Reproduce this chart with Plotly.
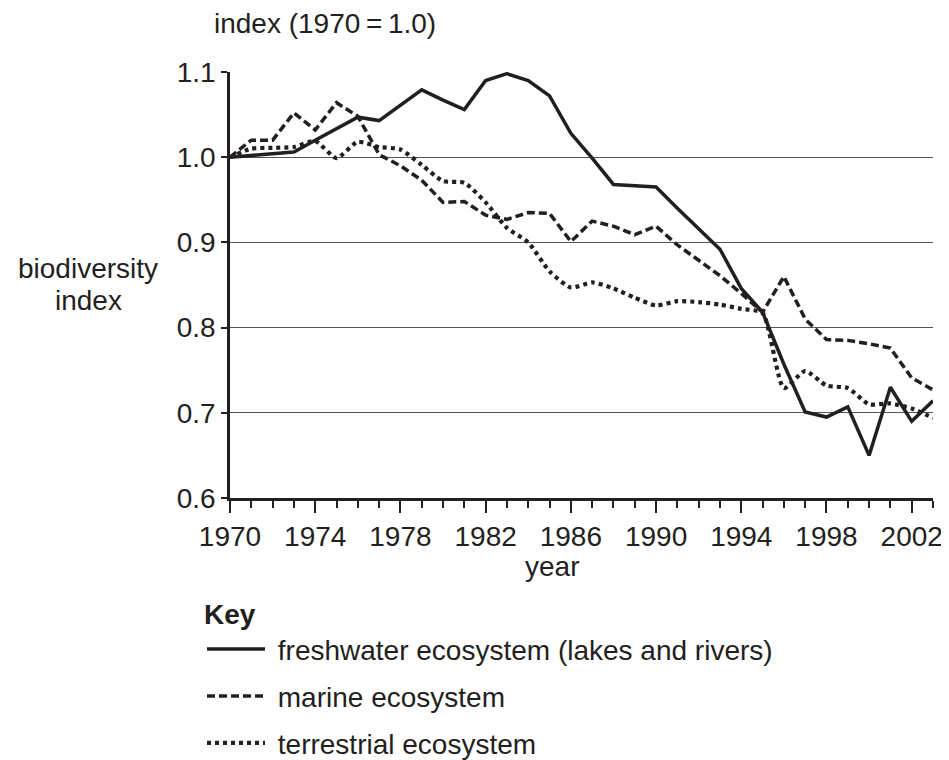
import plotly.graph_objects as go

years = list(range(1970, 2004))

freshwater = [1.000, 1.002, 1.004, 1.006, 1.020, 1.033, 1.047, 1.043, 1.061, 1.079,
              1.067, 1.056, 1.090, 1.098, 1.090, 1.072, 1.028, 0.999, 0.968, 0.966,
              0.965, 0.940, 0.916, 0.892, 0.846, 0.818, 0.757, 0.701, 0.695, 0.707,
              0.650, 0.730, 0.690, 0.714]

marine = [1.000, 1.020, 1.020, 1.052, 1.032, 1.064, 1.048, 1.003, 0.990, 0.973,
          0.947, 0.948, 0.932, 0.927, 0.935, 0.934, 0.901, 0.925, 0.919, 0.909,
          0.919, 0.897, 0.879, 0.861, 0.840, 0.818, 0.860, 0.810, 0.786, 0.785,
          0.781, 0.776, 0.741, 0.727]

terrestrial = [1.000, 1.010, 1.011, 1.012, 1.019, 0.999, 1.018, 1.012, 1.009, 0.991,
               0.972, 0.970, 0.947, 0.917, 0.900, 0.866, 0.847, 0.853, 0.846, 0.835,
               0.826, 0.831, 0.830, 0.827, 0.822, 0.817, 0.729, 0.749, 0.732, 0.729,
               0.710, 0.711, 0.705, 0.694]

series_names = ["freshwater ecosystem (lakes and rivers)", "marine ecosystem",
                "terrestrial ecosystem"]

y_ticks = [0.6, 0.7, 0.8, 0.9, 1.0, 1.1]
x_ticks = list(range(1970, 2003, 4))

FONT = "Liberation Sans, Arial, Helvetica, sans-serif"
FS = 28
INK = "#231f20"

# the page body adds an 8px margin, so the figure is drawn 8px smaller
W, H = 941, 752
PAD = "\u00a0"

fig = go.Figure()
fig.add_trace(go.Scatter(x=years, y=freshwater, mode="lines", name=PAD + series_names[0],
                         legendgroup="a",
                         line=dict(color=INK, width=3.5)))
fig.add_trace(go.Scatter(x=years, y=marine, mode="lines", name=PAD + series_names[1],
                         legendgroup="b",
                         line=dict(color=INK, width=3.5, dash="8px,4px")))
fig.add_trace(go.Scatter(x=years, y=terrestrial, mode="lines", name=PAD + series_names[2],
                         legendgroup="c",
                         line=dict(color=INK, width=4.2, dash="4px,4px", shape="spline",
                                   smoothing=0.6)))

fig.update_layout(
    width=W, height=H,
    margin=dict(l=222, r=16, t=64, b=262, autoexpand=False),
    paper_bgcolor="white", plot_bgcolor="white",
    font=dict(family=FONT, size=FS, color=INK),
    showlegend=True,
    legend=dict(
        xref="container", yref="container",
        x=194 / W, y=1 - 580 / H, xanchor="left", yanchor="top",
        orientation="v", traceorder="grouped", tracegroupgap=7.5,
        itemwidth=58,
        bgcolor="rgba(0,0,0,0)",
        font=dict(family=FONT, size=FS, color=INK),
        title=dict(text="<b>Key</b>", side="top",
                   font=dict(family=FONT, size=FS, color=INK)),
    ),
    xaxis=dict(
        range=[1970, 2003], tickmode="array", tickvals=x_ticks,
        ticktext=[str(v) for v in x_ticks],
        ticks="outside", ticklen=12, tickwidth=2, tickcolor=INK,
        minor=dict(dtick=1, tick0=1970, ticks="outside", ticklen=7,
                   tickwidth=2, tickcolor=INK, showgrid=False),
        showline=True, linecolor=INK, linewidth=2.5,
        showgrid=False, zeroline=False, automargin=False,
        tickfont=dict(family=FONT, size=FS, color=INK),
    ),
    yaxis=dict(
        range=[0.6, 1.1], tickmode="array", tickvals=y_ticks,
        ticktext=[f"{v:.1f}" for v in y_ticks],
        ticks="outside", ticklen=6, tickwidth=2, tickcolor=INK,
        showline=True, linecolor=INK, linewidth=2.5,
        showgrid=True, gridcolor="#555555", gridwidth=1.3,
        zeroline=False, automargin=False,
        tickfont=dict(family=FONT, size=FS, color=INK),
    ),
    annotations=[
        dict(text="index (1970\u2009=\u20091.0)", xref="paper", yref="paper",
             x=-0.02 - 4 / 703, y=1.0, xanchor="left", yanchor="middle", yshift=49,
             showarrow=False, font=dict(family=FONT, size=FS, color=INK)),
        dict(text="biodiversity", xref="paper", yref="paper",
             x=0, y=1.0, xanchor="center", yanchor="middle", xshift=-142,
             yshift=-(268 - 72),
             showarrow=False, font=dict(family=FONT, size=FS, color=INK)),
        dict(text="index", xref="paper", yref="paper",
             x=0, y=1.0, xanchor="center", yanchor="middle", xshift=-142,
             yshift=-(300 - 72),
             showarrow=False, font=dict(family=FONT, size=FS, color=INK)),
        dict(text="year", xref="paper", yref="paper",
             x=(552 - 230) / 703, y=0, xanchor="center", yanchor="middle",
             yshift=-68, showarrow=False,
             font=dict(family=FONT, size=FS, color=INK)),
    ],
)

fig.write_html("out.html")
